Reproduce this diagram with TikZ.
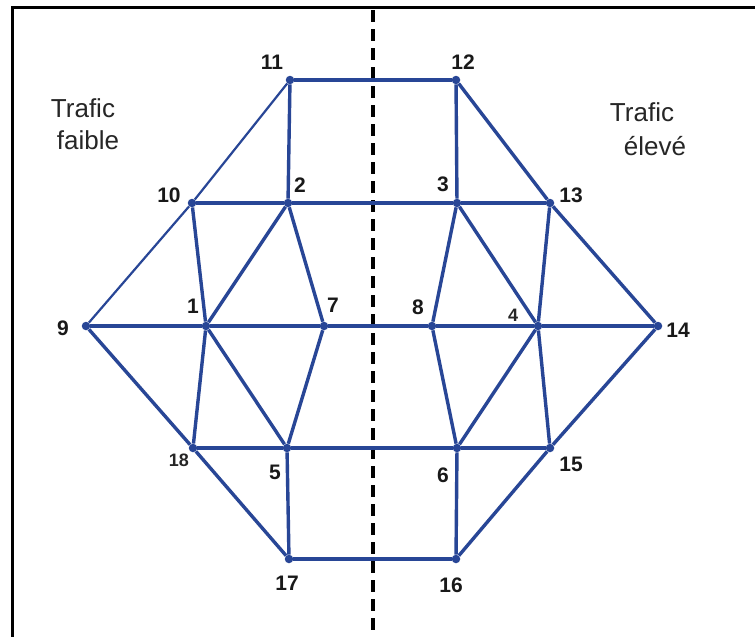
\documentclass[tikz,border=0pt]{standalone}
\usepackage{fontspec}
\setmainfont{Liberation Sans}
\definecolor{netblue}{RGB}{40,70,150}
\begin{document}
\begin{tikzpicture}[x=1pt,y=-1pt,
  vtx/.style={circle,fill=netblue,inner sep=0pt,minimum size=8.5pt},
  edge/.style={draw=netblue,line width=3.4pt},
  thinedge/.style={draw=netblue,line width=2.2pt},
  num/.style={font=\fontsize{21}{21}\selectfont\bfseries,text=black!90,inner sep=0pt},
  smallnum/.style={font=\fontsize{18}{18}\selectfont\bfseries,text=black!85,inner sep=0pt},
  lbl/.style={font=\fontsize{26}{26}\selectfont,text=black!85,inner sep=0pt}]
\useasboundingbox (0,0) rectangle (755,637);
\fill[white] (0,0) rectangle (755,637);
% frame (left and top only)
\draw[line width=3pt,black] (12,637) -- (12,7) -- (755,7);
% dashed divider
\draw[line width=3.6pt,black,dash pattern=on 12pt off 7pt] (373,10) -- (373,637);
% vertices
\node[vtx] (n11) at (290,80) {};
\node[vtx] (n12) at (456,80) {};
\node[vtx] (n10) at (192,203) {};
\node[vtx] (n2) at (288,203) {};
\node[vtx] (n3) at (457,203) {};
\node[vtx] (n13) at (550,203) {};
\node[vtx] (n9) at (86,326) {};
\node[vtx] (n1) at (206,326) {};
\node[vtx] (n7) at (324,326) {};
\node[vtx] (n8) at (432,326) {};
\node[vtx] (n4) at (538,326) {};
\node[vtx] (n14) at (658,326) {};
\node[vtx] (n18) at (193,448) {};
\node[vtx] (n5) at (287,448) {};
\node[vtx] (n6) at (457,448) {};
\node[vtx] (n15) at (550,448) {};
\node[vtx] (n17) at (289,559) {};
\node[vtx] (n16) at (456,559) {};
% edges
\draw[thinedge] (n9) -- (n10) -- (n11);
\draw[edge] (n11) -- (n12);
\draw[edge] (n11) -- (n2);
\draw[edge] (n12) -- (n3);
\draw[edge] (n12) -- (n13) -- (n14);
\draw[edge] (n10) -- (n2) -- (n3) -- (n13);
\draw[edge] (n10) -- (n1);
\draw[edge] (n2) -- (n1);
\draw[edge] (n2) -- (n7);
\draw[edge] (n3) -- (n8);
\draw[edge] (n3) -- (n4);
\draw[edge] (n13) -- (n4);
\draw[edge] (n9) -- (n1) -- (n7) -- (n8) -- (n4) -- (n14);
\draw[edge] (n1) -- (n18);
\draw[edge] (n1) -- (n5);
\draw[edge] (n7) -- (n5);
\draw[edge] (n8) -- (n6);
\draw[edge] (n4) -- (n6);
\draw[edge] (n4) -- (n15);
\draw[edge] (n18) -- (n5) -- (n6) -- (n15);
\draw[edge] (n9) -- (n18) -- (n17);
\draw[edge] (n14) -- (n15) -- (n16);
\draw[edge] (n5) -- (n17);
\draw[edge] (n6) -- (n16);
\draw[edge] (n17) -- (n16);
% number labels
\node[num] (l11) at (272,62) {11};
\node[num] (l12) at (463,62) {12};
\node[num] (l10) at (169,195) {10};
\node[num] (l2) at (300,185) {2};
\node[num] (l3) at (443,184) {3};
\node[num] (l13) at (571,195) {13};
\node[num] (l9) at (63,328) {9};
\node[num] (l1) at (193,306) {1};
\node[num] (l7) at (333,305) {7};
\node[num] (l8) at (418,307) {8};
\node[smallnum] (l4) at (513,315) {4};
\node[num] (l14) at (678,330) {14};
\node[smallnum] (l18) at (179,460) {18};
\node[num] (l5) at (275,472) {5};
\node[num] (l6) at (443,475) {6};
\node[num] (l15) at (571,464) {15};
\node[num] (l17) at (287,583) {17};
\node[num] (l16) at (451,585) {16};
% text labels
\node[lbl] (tf1) at (83,108) {Trafic};
\node[lbl] (tf2) at (88,140) {faible};
\node[lbl] (te1) at (642,112) {Trafic};
\node[lbl] (te2) at (655,146) {élevé};
\end{tikzpicture}
\end{document}
